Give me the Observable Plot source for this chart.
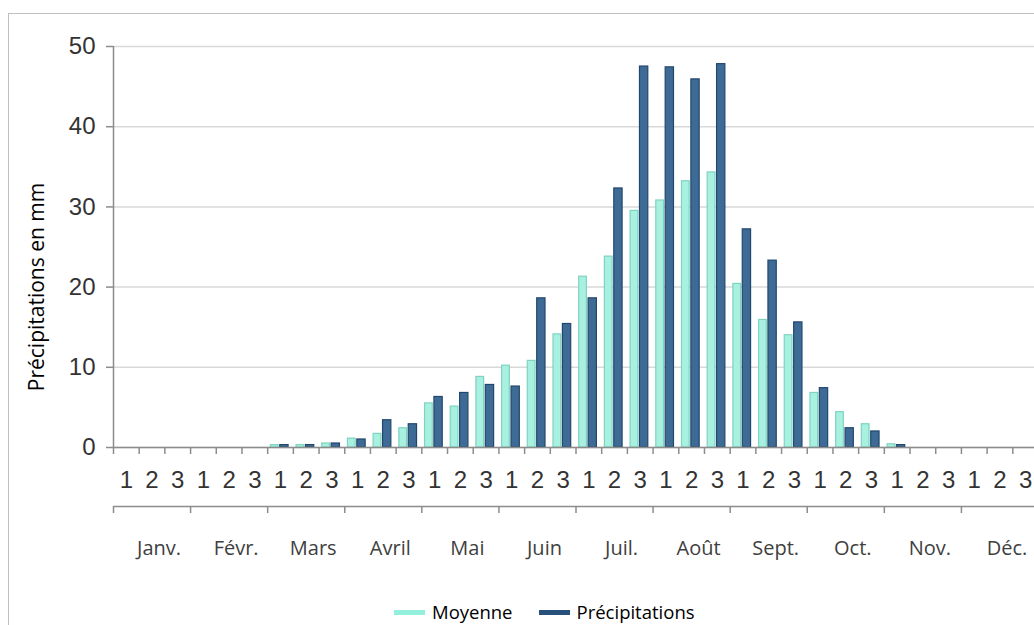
<!DOCTYPE html>
<html>
<head>
<meta charset="utf-8">
<script src="https://cdn.jsdelivr.net/npm/d3@7"></script>
<script src="https://cdn.jsdelivr.net/npm/@observablehq/plot@0.6"></script>
<style>
  html, body { margin: 0; padding: 0; background: #fff; overflow: hidden; }
  #wrap { position: relative; width: 1034px; height: 625px; overflow: hidden; }
  #frame { position: absolute; left: 8px; top: 13px; width: 1100px; height: 700px; border: 1px solid #bfbfbf; box-sizing: border-box; pointer-events: none; }
  #chart { position: absolute; left: 0; top: 0; }
  #legend { position: absolute; left: 394px; top: 601px; display: flex; align-items: center; font-family: "Open Sans", sans-serif; font-size: 18.5px; line-height: 22px; color: #000; }
  .item { display: flex; align-items: center; margin-right: 26px; }
  .sw { width: 31px; height: 5px; margin-right: 7px; }
</style>
</head>
<body>
<div id="wrap">
  <div id="chart"></div>
  <div id="frame"></div>
  <div id="legend"></div>
</div>
<script>
const months = ["Janv.", "Févr.", "Mars", "Avril", "Mai", "Juin", "Juil.", "Août", "Sept.", "Oct.", "Nov.", "Déc."];
const dekadLabels = ["1", "2", "3"];
const seriesNames = ["Moyenne", "Précipitations"];
const moyenne = [0, 0, 0, 0, 0, 0, 0.3, 0.3, 0.5, 1.1, 1.7, 2.4, 5.5, 5.1, 8.8, 10.2, 10.8, 14.1, 21.3, 23.8, 29.5, 30.8, 33.2, 34.3, 20.4, 15.9, 14.0, 6.8, 4.4, 2.9, 0.4, 0, 0, 0, 0, 0];
const precipitations = [0, 0, 0, 0, 0, 0, 0.3, 0.3, 0.5, 1.0, 3.4, 2.9, 6.3, 6.8, 7.8, 7.6, 18.6, 15.4, 18.6, 32.3, 47.5, 47.4, 45.9, 47.8, 27.2, 23.3, 15.6, 7.4, 2.4, 2.0, 0.3, 0, 0, 0, 0, 0];
const yTicks = [0, 10, 20, 30, 40, 50];
const yTitle = "Précipitations en mm";

const colors = {
  moyFill: "#a8f1e1", moyStroke: "#7fd3bf",
  preFill: "#3e6b96", preStroke: "#22476d",
  moyLegend: "#92f0dc", preLegend: "#27517b"
};

const nDek = months.length * 3;
const moyData = moyenne.map((v, i) => ({i, v})).filter(d => d.v > 0);
const preData = precipitations.map((v, i) => ({i, v})).filter(d => d.v > 0);
const dekadCenters = d3.range(nDek).map(i => i + 0.5);
const monthCenters = d3.range(months.length).map(m => m * 3 + 1.5);
const axisGray = "#8c8c8c";

const chart = Plot.plot({
  width: 1034,
  height: 595,
  marginTop: 46,
  marginBottom: 148,
  marginLeft: 113,
  marginRight: 0,
  style: { fontFamily: "Liberation Sans, Arial, sans-serif", color: "#333", background: "transparent", overflow: "visible" },
  x: { type: "linear", domain: [0, nDek], range: [113, 1038] },
  y: { domain: [0, 50] },
  marks: [
    Plot.gridY(yTicks, { stroke: "#d9d9d9", strokeOpacity: 1, strokeWidth: 1.5 }),
    Plot.rectY(moyData, { x1: d => d.i, x2: d => d.i + 1, y: "v", insetLeft: 3.2, insetRight: 14.8, fill: colors.moyFill, stroke: colors.moyStroke, strokeWidth: 1.2 }),
    Plot.rectY(preData, { x1: d => d.i, x2: d => d.i + 1, y: "v", insetLeft: 12.6, insetRight: 4.8, fill: colors.preFill, stroke: colors.preStroke, strokeWidth: 1.2 }),
    Plot.ruleX([0], { stroke: axisGray, strokeWidth: 1.5 }),
    Plot.ruleY([0], { stroke: axisGray, strokeWidth: 1.5 }),
    Plot.axisY({ ticks: yTicks, tickSize: 7, tickPadding: 11, fontSize: 24, stroke: axisGray, strokeWidth: 1.5, tickFormat: d => String(d), label: null }),
    Plot.axisX({ ticks: d3.range(nDek + 1), tickSize: 7, tickFormat: () => "", stroke: axisGray, strokeWidth: 1.5, label: null }),
    Plot.axisX({ ticks: dekadCenters, tickSize: 0, tickPadding: 23, fontSize: 24, tickFormat: d => dekadLabels[Math.floor(d) % 3], label: null }),
    Plot.ruleY([0], { dy: 59, stroke: axisGray, strokeWidth: 1.5 }),
    Plot.axisX({ ticks: d3.range(0, nDek + 1, 3), tickSize: 7, dy: 59, tickFormat: () => "", stroke: axisGray, strokeWidth: 1.5, label: null }),
    Plot.axisX({ ticks: monthCenters, tickSize: 0, tickPadding: 93, dx: 7, fontSize: 20, fontFamily: "Open Sans, sans-serif", fill: "#404040", tickFormat: d => months[Math.floor(d / 3)], label: null }),
    Plot.text([yTitle], { frameAnchor: "left", textAnchor: "middle", rotate: -90, dx: -76, dy: 40, fontSize: 21, fontFamily: "Open Sans, sans-serif", fill: "#000" })
  ]
});
document.getElementById("chart").appendChild(chart);

const legend = document.getElementById("legend");
[[seriesNames[0], colors.moyLegend], [seriesNames[1], colors.preLegend]].forEach(([name, c]) => {
  const it = document.createElement("div");
  it.className = "item";
  const sw = document.createElement("div");
  sw.className = "sw";
  sw.style.background = c;
  const t = document.createElement("span");
  t.textContent = name;
  it.appendChild(sw);
  it.appendChild(t);
  legend.appendChild(it);
});
</script>
</body>
</html>
